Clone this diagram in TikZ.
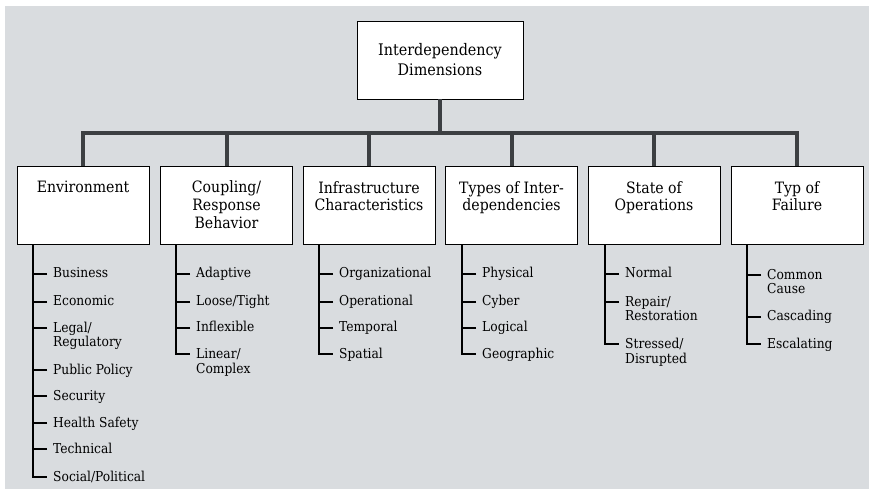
\documentclass[tikz,border=0pt]{standalone}
\usepackage{fontspec}
\setmainfont{DejaVu Serif Condensed}
\definecolor{panel}{RGB}{217,220,223}
\definecolor{busgray}{RGB}{60,63,66}
\tikzset{
  dimbox/.style={draw=black, fill=white, line width=0.8bp, minimum width=132bp,
    minimum height=78bp, align=center, inner sep=0pt,
    font=\fontsize{15.7}{18}\selectfont},
  topbox/.style={dimbox, minimum width=166bp, font=\fontsize{16}{20}\selectfont},
  item/.style={anchor=base west, inner sep=0pt, align=left,
    font=\fontsize{13.7}{15}\selectfont},
  bus/.style={line width=4bp, draw=busgray},
  twig/.style={line width=2.2bp, draw=black},
}
\begin{document}
\begin{tikzpicture}[x=1bp,y=-1bp]
    \useasboundingbox (0,0) rectangle (869,489);
    \fill[panel] (5,6) rectangle (869,489);

    % top and dimension boxes
    \node[topbox] (dims) at (440,60) {Interdependency\\Dimensions};

    \node[dimbox] (env) at (83,205) {Environment\\~\\~};
    \node[dimbox] (coup) at (226.5,205) {Coupling/\\Response\\Behavior};
    \node[dimbox] (infra) at (369,205) {Infrastructure\\Characteristics\\~};
    \node[dimbox] (types) at (511.5,205) {Types of Inter-\\dependencies\\~};
    \node[dimbox] (state) at (654,205) {State of\\Operations\\~};
    \node[dimbox] (fail) at (797,205) {Typ of\\Failure\\~};

    % bus
    \coordinate (bus) at (440,133);
    \draw[bus] (dims.south) -- (dims.south |- bus);
    \draw[bus] (env.north) |- (fail.north |- bus) -- (fail.north);
    \foreach \b in {coup,infra,types,state}
        \draw[bus] (\b.north) -- (\b.north |- bus);

    % Environment (two-line items sit on their last baseline)
    \node[item] (env1) at (53,278) {Business};
    \node[item] (env2) at (53,306) {Economic};
    \node[item] (env3) at (53,347) {Legal/\\Regulatory};
    \node[item] (env4) at (53,374) {Public Policy};
    \node[item] (env5) at (53,400) {Security};
    \node[item] (env6) at (53,427) {Health Safety};
    \node[item] (env7) at (53,453) {Technical};
    \node[item] (env8) at (53,481) {Social/Political};

    % Coupling
    \node[item] (coup1) at (196,278) {Adaptive};
    \node[item] (coup2) at (196,306) {Loose/Tight};
    \node[item] (coup3) at (196,332) {Inflexible};
    \node[item] (coup4) at (196,373) {Linear/\\Complex};

    % Infrastructure
    \node[item] (infra1) at (339,278) {Organizational};
    \node[item] (infra2) at (339,306) {Operational};
    \node[item] (infra3) at (339,332) {Temporal};
    \node[item] (infra4) at (339,358) {Spatial};

    % Types
    \node[item] (types1) at (482,278) {Physical};
    \node[item] (types2) at (482,306) {Cyber};
    \node[item] (types3) at (482,332) {Logical};
    \node[item] (types4) at (482,358) {Geographic};

    % State
    \node[item] (state1) at (625,278) {Normal};
    \node[item] (state2) at (625,321) {Repair/\\Restoration};
    \node[item] (state3) at (625,363) {Stressed/\\Disrupted};

    % Failure
    \node[item] (fail1) at (767,294) {Common\\Cause};
    \node[item] (fail2) at (767,321) {Cascading};
    \node[item] (fail3) at (767,348) {Escalating};

    % spines and ticks (raise = 4, or 19 for two-line items)
    \foreach \c/\n/\r in {env/8/4,coup/4/19,infra/4/4,types/4/4,state/3/19,fail/3/4} {
        \coordinate (\c spine) at ([xshift=-20bp]\c\n.base west);
        \draw[twig] (\c.south -| \c spine) |- ([xshift=-6bp,yshift=\r bp]\c\n.base west);
    }
    \foreach \t/\r in {env1/4,env2/4,env3/19,env4/4,env5/4,env6/4,env7/4,
                       coup1/4,coup2/4,coup3/4,infra1/4,infra2/4,infra3/4,
                       types1/4,types2/4,types3/4,state1/4,state2/19,
                       fail1/19,fail2/4}
        \draw[twig] ([xshift=-6bp,yshift=\r bp]\t.base west) -- ++(-14,0);

\end{tikzpicture}
\end{document}
